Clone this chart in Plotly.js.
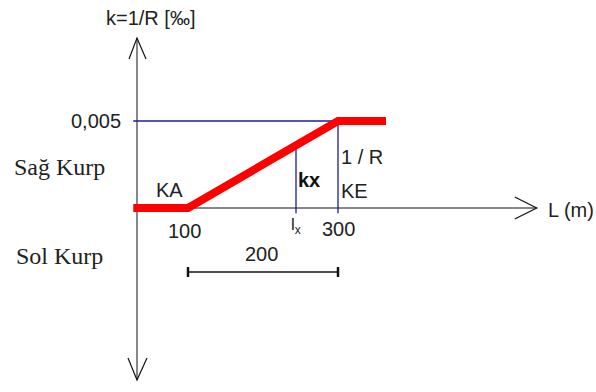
<!DOCTYPE html>
<html><head><meta charset="utf-8">
<script src="https://cdn.plot.ly/plotly-3.0.1.min.js"></script>
<style>html,body{margin:0;padding:0;background:#fff}</style>
</head><body><div id="chart" style="width:596px;height:392px"></div>
<script>
// ---- data ----
const curveL = [27, 100, 300, 364];          // L (m)
const curveK = [0, 0, 0.005, 0.005];         // k = 1/R
const KA = 100, KE = 300;                    // transition start / end
const kMax = 0.005;                          // 1/R
const lx = 244;                              // arbitrary point lx
const kx = 0.0036;                           // curvature at lx
const axisL = 32;                            // L where vertical axis stands
const axisTopK = 0.00977, axisBottomK = -0.00989, axisRightL = 565;
const dimK = -0.00368;                       // level of the 200 m dimension line
const xTickLabels = ['100', '300'];
const yTickLabel = '0,005';
const dimLabel = '200';

const black = '#111', blue = '#1c1c9c', red = '#ff0000';
const sans = 'Liberation Sans, Arial, sans-serif';
const serif = 'Liberation Serif, Times New Roman, serif';

const traces = [
  {x:[axisL,axisL], y:[axisBottomK,axisTopK], mode:'lines', line:{color:black,width:1}},
  {x:[axisL,axisRightL], y:[0,0], mode:'lines', line:{color:black,width:1}},
  {x:[axisL-5,KE], y:[kMax,kMax], mode:'lines', line:{color:blue,width:1.3}},
  {x:[KE,KE], y:[kMax,-0.0003], mode:'lines', line:{color:blue,width:1.3}},
  {x:[lx,lx], y:[kx,-0.0003], mode:'lines', line:{color:blue,width:1.3}},
  {x:curveL, y:curveK, mode:'lines', line:{color:red,width:8}},
  {x:[KA,KE], y:[dimK,dimK], mode:'lines', line:{color:black,width:1.5}}
];

function pix(xa, ya, path, w){
  return {type:'path', xref:'x', yref:'y', xsizemode:'pixel', ysizemode:'pixel',
          xanchor:xa, yanchor:ya, path:path, line:{color:black,width:w||1.2}};
}
const shapes = [
  pix(axisL, axisTopK, 'M-8,-21 L0,0 L9,-21'),
  pix(axisL, axisBottomK, 'M-9,22 L0,0 L10,22'),
  pix(axisRightL, 0, 'M-22,11 L0,0 L-22,-11'),
  pix(KA, dimK, 'M0,-5 L0,5', 2.5),
  pix(KE, dimK, 'M0,-5 L0,5', 2.5)
];

function ann(text, x, y, opts){
  return Object.assign({text:text, x:x, y:y, xref:'paper', yref:'paper', showarrow:false,
    xanchor:'center', yanchor:'middle', font:{family:sans,size:20,color:'#222'}}, opts||{});
}
const P = (px)=>px/596, Q = (py)=>1-py/392;
const annotations = [
  ann('k=1/R [‰]', P(150), Q(18)),
  ann(yTickLabel, P(123), kMax, {yref:'y', xanchor:'right'}),
  ann('Sağ Kurp', P(60), Q(167), {font:{family:serif,size:24,color:'#222'}}),
  ann('Sol Kurp', P(60), Q(256), {font:{family:serif,size:24,color:'#222'}}),
  ann('KA', P(169), Q(190)),
  ann(xTickLabels[0], KA, Q(231), {xref:'x', xshift:-4}),
  ann('l<sub>x</sub>', lx, Q(226), {xref:'x', font:{family:sans,size:17,color:'#222'}}),
  ann(xTickLabels[1], KE, Q(229), {xref:'x'}),
  ann(dimLabel, (KA+KE)/2, Q(254), {xref:'x', xshift:-2}),
  ann('<b>kx</b>', P(309), Q(180), {font:{family:sans,size:20,color:'#111'}}),
  ann('1 / R', P(339), Q(157), {xanchor:'left'}),
  ann('KE', P(339), Q(191), {xanchor:'left'}),
  ann('L (m)', P(546), Q(210), {xanchor:'left'})
];

const layout = {
  width:596, height:392, margin:{l:0,r:0,t:0,b:0}, showlegend:false,
  paper_bgcolor:'#fff', plot_bgcolor:'#fff',
  xaxis:{range:[-150.667,644], visible:false, fixedrange:true},
  yaxis:{range:[-0.010575,0.011954], visible:false, fixedrange:true},
  shapes:shapes, annotations:annotations
};
Plotly.newPlot('chart', traces, layout, {displayModeBar:false, staticPlot:true});
</script></body></html>
